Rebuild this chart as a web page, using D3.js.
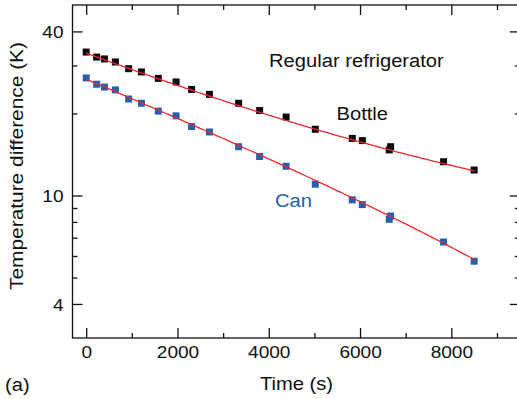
<!DOCTYPE html>
<html>
<head>
<meta charset="utf-8">
<script src="https://cdn.jsdelivr.net/npm/d3@7"></script>
<style>
  html, body { margin: 0; padding: 0; background: #fff; }
  svg { display: block; font-family: "Liberation Sans", Arial, Helvetica, sans-serif; }
</style>
</head>
<body>
<svg id="chart" width="517" height="399"></svg>
<script>
// ---- data ----
const times = [0, 230, 400, 640, 930, 1210, 1580, 1970, 2310, 2700, 3340, 3800, 4380, 5020, 5830, 6050, 6670, 6640, 7830, 8500];
const bottle = [33.6, 32.2, 31.7, 30.9, 29.2, 28.4, 26.9, 26.1, 24.5, 23.5, 21.8, 20.5, 19.4, 17.5, 16.2, 15.9, 15.1, 14.7, 13.3, 12.4];
const can    = [27.0, 25.6, 25.0, 24.4, 22.6, 21.8, 20.4, 19.6, 17.9, 17.1, 15.1, 13.9, 12.8, 11.0, 9.64, 9.26, 8.41, 8.18, 6.75, 5.74];
// exponential fits: offset + amplitude * exp(-t / tau)
const fitBottle = { offset: 6, amplitude: 27.3, tau: 5809 };
const fitCan    = { offset: -2.2, amplitude: 28.9, tau: 6634 };
const fitRange  = [0, 8520];
const xMajorTicks = [0, 2000, 4000, 6000, 8000];
const xMinorTicks = [1000, 3000, 5000, 7000, 9000];
const yMajorTicks = [4, 10, 40];
const yMinorTicks = [5, 6, 7, 8, 9, 20, 30];

const svg = d3.select("#chart");
const mLeft = 72.5, mRight = 519.8, mTop = 5, mBottom = 338;
const x = d3.scaleLinear().domain([-300, 9500]).range([mLeft, mRight]);
const y = d3.scaleLog().domain([3, 50]).range([mBottom, mTop]);

const axisColor = "#111";
const red = "#e8292e";
const blue = "#2361ad";
const STRETCH = 1.12;

// frame
svg.append("rect").attr("x", mLeft).attr("y", mTop)
  .attr("width", mRight - mLeft).attr("height", mBottom - mTop)
  .attr("fill", "none").attr("stroke", axisColor).attr("stroke-width", 1.3);

// axes via d3 axes (inward ticks)
function addAxis(axisFn, scale, ticks, size, transform, fmt) {
  const a = axisFn(scale).tickValues(ticks).tickSizeInner(-size).tickSizeOuter(0).tickFormat(fmt || "");
  const g = svg.append("g").attr("transform", transform).call(a);
  g.select(".domain").remove();
  g.selectAll(".tick line").attr("stroke", axisColor).attr("stroke-width", 1.3);
  return g;
}
// bottom
const gxb = addAxis(d3.axisBottom, x, xMajorTicks, 10, `translate(0,${mBottom})`, d3.format("d"));
addAxis(d3.axisBottom, x, xMinorTicks, 5, `translate(0,${mBottom})`);
gxb.selectAll(".tick text").attr("font-size", 17).attr("fill", "#111").attr("y", 20).attr("dy", 0);
// top
addAxis(d3.axisTop, x, xMajorTicks, 10, `translate(0,${mTop})`);
addAxis(d3.axisTop, x, xMinorTicks, 5, `translate(0,${mTop})`);
// left
const gyl = addAxis(d3.axisLeft, y, yMajorTicks, 10, `translate(${mLeft},0)`, d3.format("d"));
addAxis(d3.axisLeft, y, yMinorTicks, 5, `translate(${mLeft},0)`);
gyl.selectAll(".tick text").attr("font-size", 17).attr("fill", "#111").attr("x", -9).attr("dy", "0.36em");
// right
addAxis(d3.axisRight, y, yMajorTicks, 10, `translate(${mRight},0)`);
addAxis(d3.axisRight, y, yMinorTicks, 5, `translate(${mRight},0)`);

// markers
const ms = 7;
function markers(values, color) {
  svg.append("g").selectAll("rect").data(values).join("rect")
    .attr("x", (d, i) => x(times[i]) - ms / 2)
    .attr("y", d => y(d) - ms / 2)
    .attr("width", ms).attr("height", ms)
    .attr("fill", color);
}
markers(bottle, "#0a0a0a");
markers(can, blue);

// fit lines
function fitLine(p) {
  const ts = d3.range(fitRange[0], fitRange[1] + 1, 60);
  const line = d3.line().x(t => x(t)).y(t => y(p.offset + p.amplitude * Math.exp(-t / p.tau)));
  svg.append("path").attr("d", line(ts)).attr("fill", "none")
    .attr("stroke", red).attr("stroke-width", 1.3);
}
fitLine(fitBottle);
fitLine(fitCan);

// annotations
function label(txt, xx, yy, opts = {}) {
  return svg.append("text").attr("x", xx).attr("y", yy)
    .attr("font-size", opts.size || 18)
    .attr("fill", opts.color || "#111")
    .attr("text-anchor", opts.anchor || "start")
    .attr("transform", opts.transform || null)
    .attr("data-stretch", opts.stretch || STRETCH)
    .text(txt);
}
label("Regular refrigerator", 269, 67);
label("Bottle", 336.5, 120);
label("Can", 275, 207, { color: blue });
label("(a)", 5, 391);
label("Time (s)", 296.5, 390, { anchor: "middle" });
label("Temperature difference (K)", 0, 0, { anchor: "middle", stretch: 1.16, transform: "translate(23,166) rotate(-90)" });

// horizontal stretch to match reference glyph widths
svg.selectAll("text").each(function () {
  const w = this.getComputedTextLength();
  const s = +(this.getAttribute("data-stretch") || STRETCH);
  this.setAttribute("textLength", (w * s).toFixed(2));
  this.setAttribute("lengthAdjust", "spacingAndGlyphs");
});
</script>
</body>
</html>
